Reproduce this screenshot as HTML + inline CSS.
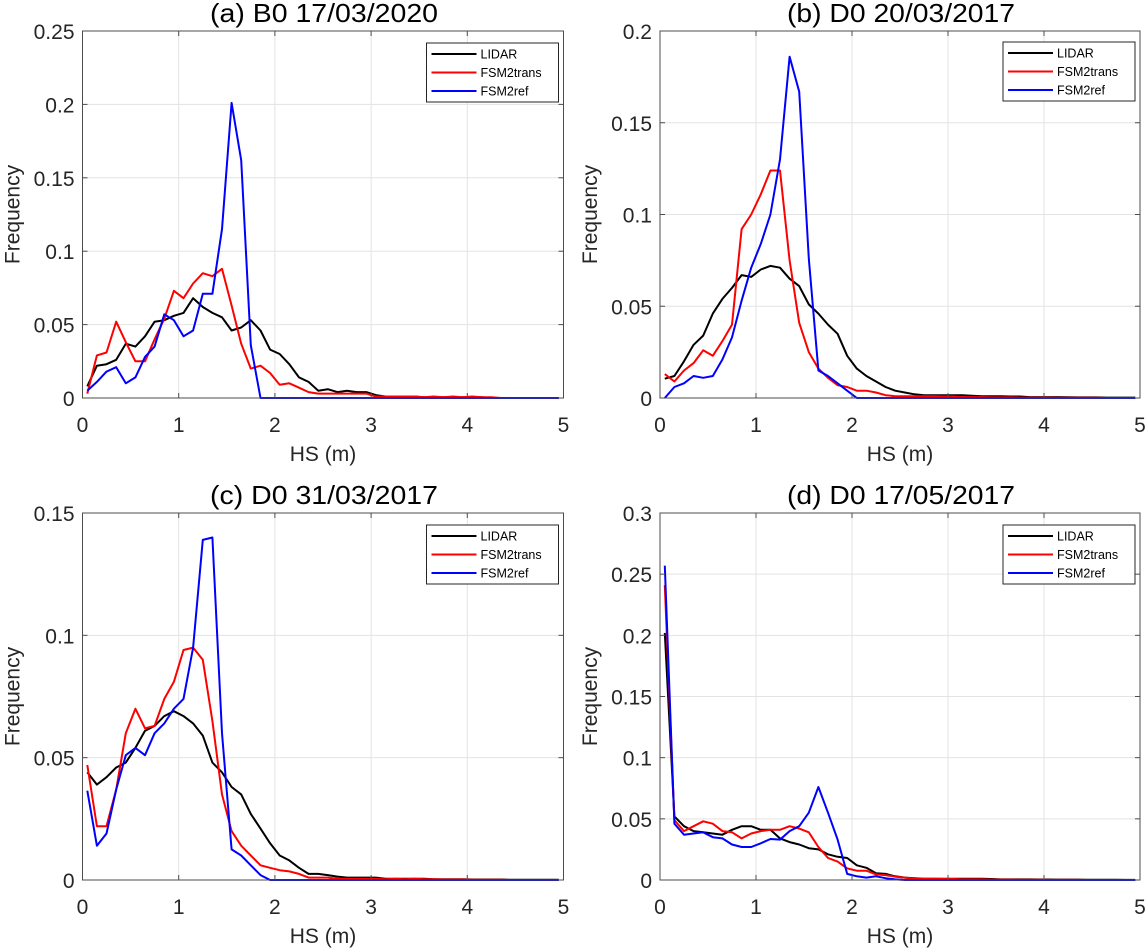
<!DOCTYPE html>
<html><head><meta charset="utf-8">
<style>
html,body{margin:0;padding:0;background:#fff;}
svg{display:block;font-family:"Liberation Sans",sans-serif;}
</style></head>
<body>
<svg id="fig" width="1147" height="950" viewBox="0 0 1147 950" xmlns="http://www.w3.org/2000/svg"></svg>
<script>
const binCenters = [0.05,0.15,0.25,0.35,0.45,0.55,0.65,0.75,0.85,0.95,1.05,1.15,1.25,1.35,1.45,1.55,1.65,1.75,1.85,1.95,2.05,2.15,2.25,2.35,2.45,2.55,2.65,2.75,2.85,2.95,3.05,3.15,3.25,3.35,3.45,3.55,3.65,3.75,3.85,3.95,4.05,4.15,4.25,4.35,4.45,4.55,4.65,4.75,4.85,4.95];
const seriesNames = ["LIDAR","FSM2trans","FSM2ref"];
const seriesColors = ["#000000","#ff0000","#0000ff"];
const xTicks = [0,1,2,3,4,5];

const titleA = "(a) B0 17/03/2020";
const yTicksA = [0,0.05,0.1,0.15,0.2,0.25];
const yTickLabelsA = ["0","0.05","0.1","0.15","0.2","0.25"];
const lidarA = [0.008,0.022,0.023,0.026,0.037,0.035,0.042,0.052,0.053,0.056,0.058,0.068,0.062,0.058,0.055,0.046,0.048,0.053,0.046,0.033,0.030,0.023,0.014,0.011,0.005,0.006,0.004,0.005,0.004,0.004,0.002,0.001,0.001,0.001,0.001,0.0005,0.0005,0.0005,0.0005,0.0005,0.0005,0.0005,0,0,0,0,0,0,0,0];
const transA = [0.003,0.029,0.031,0.052,0.038,0.025,0.025,0.040,0.054,0.073,0.068,0.078,0.085,0.083,0.088,0.063,0.037,0.020,0.022,0.017,0.009,0.010,0.007,0.004,0.003,0.003,0.003,0.003,0.003,0.003,0.001,0.001,0.001,0.001,0.001,0.0005,0.001,0.0005,0.001,0.0005,0.001,0.0005,0.0005,0,0,0,0,0,0,0];
const refA = [0.005,0.011,0.018,0.021,0.010,0.014,0.028,0.035,0.057,0.053,0.042,0.046,0.071,0.071,0.115,0.201,0.162,0.036,0,0,0,0,0,0,0,0,0,0,0,0,0,0,0,0,0,0,0,0,0,0,0,0,0,0,0,0,0,0,0,0];

const titleB = "(b) D0 20/03/2017";
const yTicksB = [0,0.05,0.1,0.15,0.2];
const yTickLabelsB = ["0","0.05","0.1","0.15","0.2"];
const lidarB = [0.0105,0.012,0.020,0.029,0.034,0.046,0.054,0.060,0.067,0.066,0.070,0.072,0.071,0.065,0.061,0.051,0.046,0.040,0.035,0.023,0.016,0.012,0.009,0.006,0.004,0.003,0.002,0.0015,0.0015,0.0015,0.0015,0.0015,0.0012,0.001,0.001,0.001,0.0008,0.0008,0.0005,0.0005,0.0005,0.0005,0.0004,0.0003,0.0003,0.0003,0.0002,0.0002,0.0002,0.0002];
const transB = [0.013,0.009,0.015,0.019,0.026,0.023,0.031,0.040,0.092,0.100,0.111,0.124,0.124,0.075,0.041,0.025,0.016,0.011,0.007,0.006,0.004,0.004,0.003,0.0015,0.001,0.001,0.001,0.001,0.001,0.0008,0.0008,0.0005,0.0005,0.0005,0.0003,0.0003,0.0003,0.0002,0.0002,0.0002,0.0002,0.0001,0.0001,0.0001,0.0001,0.0001,0,0,0,0];
const refB = [0.0,0.006,0.008,0.012,0.011,0.012,0.021,0.033,0.053,0.071,0.084,0.100,0.130,0.186,0.167,0.076,0.015,0.012,0.008,0.004,0,0,0,0,0,0,0,0,0,0,0,0,0,0,0,0,0,0,0,0,0,0,0,0,0,0,0,0,0,0];

const titleC = "(c) D0 31/03/2017";
const yTicksC = [0,0.05,0.1,0.15];
const yTickLabelsC = ["0","0.05","0.1","0.15"];
const lidarC = [0.044,0.039,0.042,0.046,0.048,0.054,0.061,0.063,0.067,0.069,0.067,0.064,0.059,0.048,0.044,0.038,0.035,0.027,0.021,0.015,0.010,0.008,0.005,0.0025,0.0025,0.002,0.0014,0.001,0.001,0.001,0.001,0.0005,0.0005,0.0005,0.0005,0.0005,0.0003,0.0003,0.0003,0.0003,0.0002,0.0002,0.0002,0.0002,0.0001,0.0001,0.0001,0.0001,0.0001,0.0001];
const transC = [0.047,0.022,0.022,0.037,0.060,0.070,0.062,0.063,0.074,0.081,0.094,0.095,0.090,0.065,0.035,0.020,0.014,0.010,0.006,0.005,0.004,0.0035,0.0025,0.001,0.001,0.001,0.0005,0.0005,0.0005,0.0005,0.0005,0.0003,0.0005,0.0003,0.0005,0.0003,0.0003,0.0002,0.0002,0.0002,0.0001,0.0001,0.0001,0.0001,0,0,0,0,0,0];
const refC = [0.0365,0.014,0.019,0.037,0.051,0.054,0.051,0.060,0.064,0.070,0.074,0.095,0.139,0.140,0.060,0.0125,0.010,0.006,0.002,0,0,0,0,0,0,0,0,0,0,0,0,0,0,0,0,0,0,0,0,0,0,0,0,0,0,0,0,0,0,0];

const titleD = "(d) D0 17/05/2017";
const yTicksD = [0,0.05,0.1,0.15,0.2,0.25,0.3];
const yTickLabelsD = ["0","0.05","0.1","0.15","0.2","0.25","0.3"];
const lidarD = [0.202,0.052,0.044,0.040,0.039,0.038,0.037,0.041,0.044,0.044,0.041,0.041,0.034,0.031,0.029,0.026,0.025,0.021,0.019,0.018,0.012,0.010,0.0055,0.005,0.003,0.002,0.0015,0.001,0.001,0.001,0.001,0.001,0.001,0.001,0.0008,0.0005,0.0005,0.0005,0.0005,0.0004,0.0004,0.0003,0.0003,0.0003,0.0002,0.0002,0.0002,0.0002,0.0001,0.0001];
const transD = [0.241,0.049,0.040,0.044,0.048,0.046,0.040,0.039,0.034,0.038,0.040,0.041,0.041,0.044,0.042,0.039,0.027,0.018,0.015,0.0095,0.0076,0.0076,0.0046,0.004,0.0027,0.002,0.001,0.001,0.001,0.0008,0.0008,0.0005,0.0005,0.0005,0.0003,0.0003,0.0003,0.0002,0.0002,0.0002,0.0001,0.0001,0.0001,0.0001,0,0,0,0,0,0];
const refD = [0.257,0.046,0.037,0.038,0.039,0.035,0.034,0.029,0.027,0.027,0.030,0.0335,0.033,0.040,0.044,0.055,0.076,0.055,0.033,0.005,0.003,0.002,0.003,0.0015,0.0005,0,0,0,0,0,0,0,0,0,0,0,0,0,0,0,0,0,0,0,0,0,0,0,0,0];

const NS = "http://www.w3.org/2000/svg";
const svg = document.getElementById("fig");
function mk(tag, attrs, parent) {
  const e = document.createElementNS(NS, tag);
  for (const k in attrs) e.setAttribute(k, attrs[k]);
  (parent || svg).appendChild(e);
  return e;
}

function panel(id, L, T, W, H, title, yTicks, yLabels, yMax, series, legendTop) {
  const g = mk("g", {});
  
  
  const xs = v => L + v / 5 * W;
  const ys = v => T + H - v / yMax * H;
  mk("rect", {x: L, y: T, width: W, height: H, fill: "#fff"}, g);
  xTicks.forEach(t => {
    if (t > 0 && t < 5) mk("line", {x1: xs(t), x2: xs(t), y1: T, y2: T + H, stroke: "#e3e3e3", "stroke-width": 1}, g);
  });
  yTicks.forEach(t => {
    if (t > 0 && t < yMax) mk("line", {x1: L, x2: L + W, y1: ys(t), y2: ys(t), stroke: "#e3e3e3", "stroke-width": 1}, g);
  });
  series.forEach((s, i) => {
    const pts = binCenters.map((x, j) => xs(x).toFixed(1) + "," + ys(s[j]).toFixed(1)).join(" ");
    const pl = mk("polyline", {points: pts, fill: "none", stroke: seriesColors[i], "stroke-width": 2, "stroke-linejoin": "round"}, g);
    
    
  });
  mk("rect", {x: L, y: T, width: W, height: H, fill: "none", stroke: "#4d4d4d", "stroke-width": 1}, g);
  xTicks.forEach(t => {
    mk("line", {x1: xs(t), x2: xs(t), y1: T + H, y2: T + H - 5, stroke: "#4d4d4d"}, g);
    mk("line", {x1: xs(t), x2: xs(t), y1: T, y2: T + 5, stroke: "#4d4d4d"}, g);
    const tx = mk("text", {x: xs(t), y: T + H + 34, "font-size": 21, "text-anchor": "middle", fill: "#262626"}, g);
    tx.textContent = String(t);
    
    
  });
  yTicks.forEach((t, k) => {
    mk("line", {x1: L, x2: L + 5, y1: ys(t), y2: ys(t), stroke: "#4d4d4d"}, g);
    mk("line", {x1: L + W, x2: L + W - 5, y1: ys(t), y2: ys(t), stroke: "#4d4d4d"}, g);
    const ty = mk("text", {x: L - 8, y: ys(t) + 8, "font-size": 21, "text-anchor": "end", fill: "#262626"}, g);
    ty.textContent = yLabels[k];
    
    
  });
  const tt = mk("text", {x: L + W / 2 + 1, y: T - 9, "font-size": 26, "text-anchor": "middle", fill: "#000", textLength: 228, lengthAdjust: "spacingAndGlyphs"}, g);
  tt.textContent = title;
  
  
  const xl = mk("text", {x: L + W / 2, y: T + H + 63, "font-size": 21, "text-anchor": "middle", fill: "#262626"}, g);
  xl.textContent = "HS (m)";
  
  
  const yl = mk("text", {x: 0, y: 0, "font-size": 21, "text-anchor": "middle", fill: "#262626", transform: "translate(" + (L - 63) + "," + (T + H / 2) + ") rotate(-90)"}, g);
  yl.textContent = "Frequency";
  
  
  const lg = mk("g", {}, g);
  
  
  const lx = L + W - 137;
  mk("rect", {x: lx, y: legendTop, width: 132, height: 59, fill: "#fff", stroke: "#262626", "stroke-width": 1}, lg);
  seriesNames.forEach((n, i) => {
    const y = legendTop + 11 + i * 18.5;
    const ent = mk("g", {}, lg);
    
    
    mk("line", {x1: lx + 5, x2: lx + 50, y1: y, y2: y, stroke: seriesColors[i], "stroke-width": 2}, ent);
    const t = mk("text", {x: lx + 54, y: y + 4.5, "font-size": 12.5, fill: "#000"}, ent);
    t.textContent = n;
  });
}

panel("a", 82.5, 31, 481, 367, titleA, yTicksA, yTickLabelsA, 0.25, [lidarA, transA, refA], 43);
panel("b", 660, 31, 480, 367, titleB, yTicksB, yTickLabelsB, 0.2, [lidarB, transB, refB], 42);
panel("c", 82.5, 513, 481, 367, titleC, yTicksC, yTickLabelsC, 0.15, [lidarC, transC, refC], 525);
panel("d", 660, 513, 480, 367, titleD, yTicksD, yTickLabelsD, 0.3, [lidarD, transD, refD], 525);
</script>
</body></html>
